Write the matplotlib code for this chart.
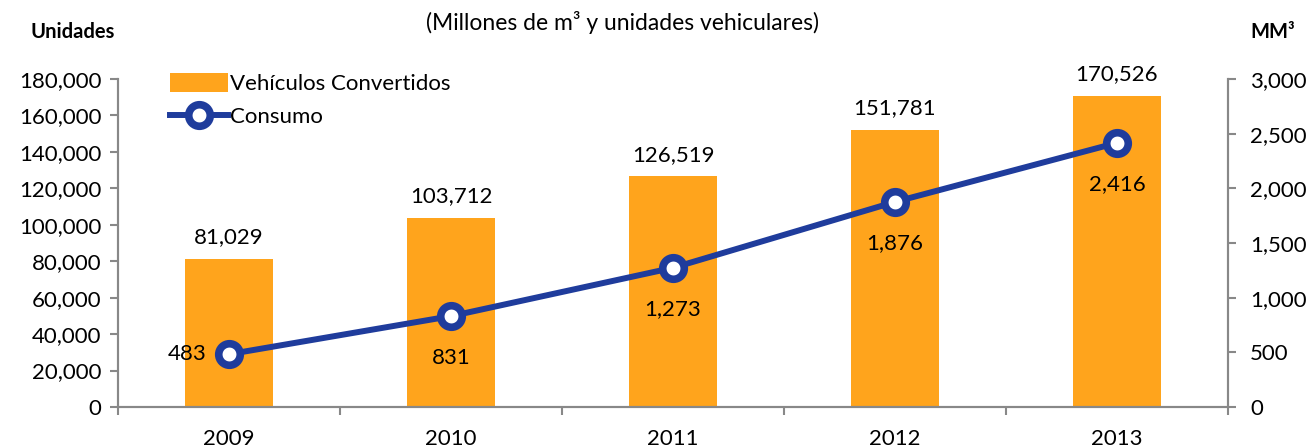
import matplotlib
matplotlib.use("Agg")
import matplotlib.pyplot as plt
from matplotlib.ticker import FuncFormatter, FixedLocator

plt.rcParams['font.family'] = ['Lato', 'DejaVu Sans']

years = ["2009", "2010", "2011", "2012", "2013"]
vehiculos = [81029, 103712, 126519, 151781, 170526]
consumo = [483, 831, 1273, 1876, 2416]
left_ticks = list(range(0, 180001, 20000))
right_ticks = list(range(0, 3001, 500))

bar_color = "#FFA41C"
line_color = "#1F3C9C"
spine_color = "#888888"
fs = 16

fig = plt.figure(figsize=(13.12, 4.48), dpi=100)
ax = fig.add_axes([118/1312, 1-407/448, (1228-118)/1312, (407-79)/448])
ax2 = ax.twinx()

x = list(range(len(years)))
bars = ax.bar(x, vehiculos, width=0.4, color=bar_color, zorder=1, label="Vehículos Convertidos")
ax.set_ylim(0, 180000)
ax.set_xlim(-0.5, len(years)-0.5)
ax.set_yticks(left_ticks)
fmt = FuncFormatter(lambda v, p: f"{int(v):,}")
ax.yaxis.set_major_formatter(fmt)
ax.set_xticks(x)
ax.set_xticklabels(years)
ax.xaxis.set_minor_locator(FixedLocator([i - 0.5 for i in range(len(years)+1)]))
ax.tick_params(axis='x', which='major', length=0, labelsize=fs, pad=16)
ax.tick_params(axis='x', which='minor', length=6, color=spine_color, width=1.5)
ax.tick_params(axis='y', length=6, color=spine_color, width=1.5, labelsize=fs, pad=6)

for i, v in enumerate(vehiculos):
    ax.text(i, v + 6500, f"{v:,}", ha='center', va='bottom', fontsize=fs)

line, = ax2.plot(x, consumo, color=line_color, lw=4.3, marker='o', markersize=15.5,
                 markerfacecolor='white', markeredgecolor=line_color, markeredgewidth=5.5,
                 zorder=3, label="Consumo")
ax2.set_ylim(0, 3000)
ax2.set_yticks(right_ticks)
ax2.yaxis.set_major_formatter(fmt)
ax2.tick_params(axis='y', length=6, color=spine_color, width=1.5, labelsize=fs, pad=10)

for i, v in enumerate(consumo):
    if i == 0:
        ax2.text(i - 0.1, v, f"{v:,}", ha='right', va='center', fontsize=fs)
    else:
        ax2.text(i, v - 380, f"{v:,}", ha='center', va='center', fontsize=fs)

for a in (ax, ax2):
    a.spines['top'].set_visible(False)
    for s in ['left', 'right', 'bottom']:
        a.spines[s].set_color(spine_color)
        a.spines[s].set_linewidth(1.5)

ax.legend(handles=[bars, line], loc='upper left', bbox_to_anchor=(0.039, 1.045),
          frameon=False, fontsize=fs, handlelength=2.6, handleheight=0.9,
          handletextpad=0.1, labelspacing=0.55, borderaxespad=0)

fig.text(30/1312, 1-32/448, "Unidades", fontsize=14.5, fontweight='bold', va='center', ha='left')
fig.text(1250/1312, 1-32/448, "MM³", fontsize=14.5, fontweight='bold', va='center', ha='left')
fig.text(622/1312, 1-22/448, "(Millones de m³ y unidades vehiculares)", fontsize=16.5, va='center', ha='center')

fig.savefig("out.png", dpi=100)
